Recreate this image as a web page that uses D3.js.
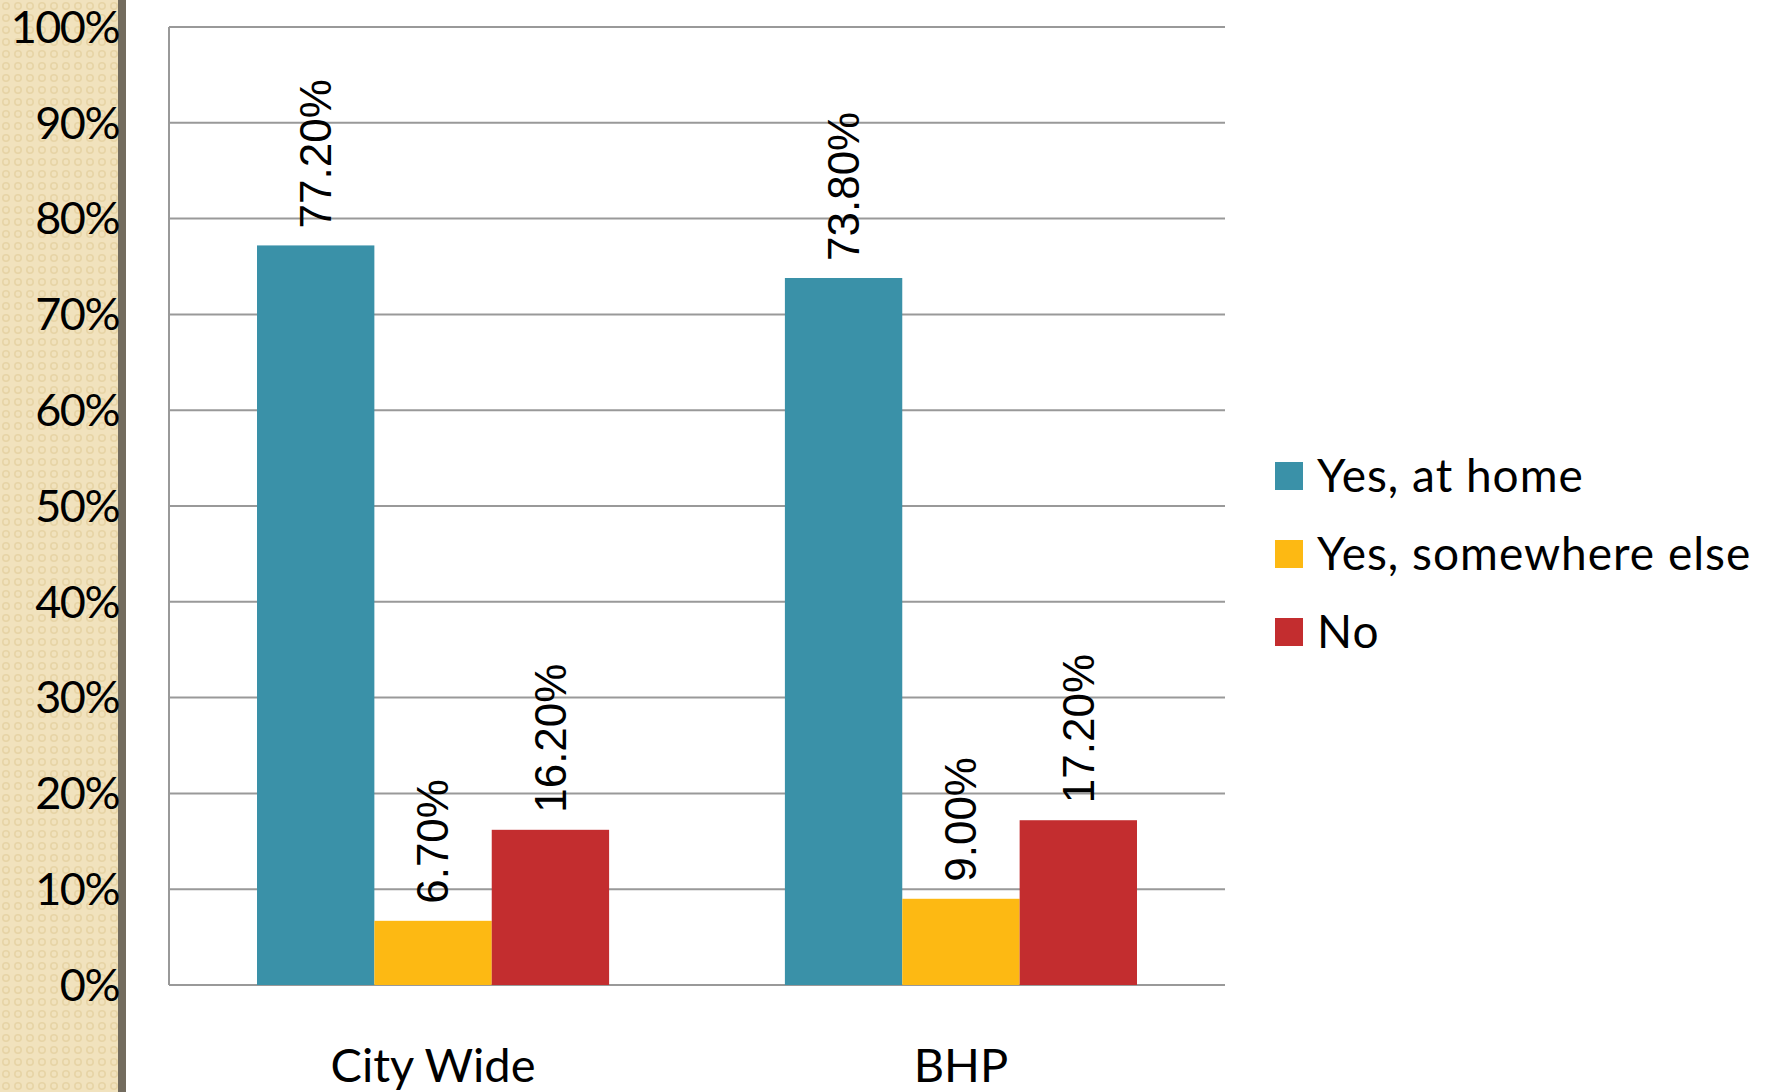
<!DOCTYPE html>
<html>
<head>
<meta charset="utf-8">
<script src="https://cdn.jsdelivr.net/npm/d3@7"></script>
<style>
  body { margin: 0; background: #fff; overflow: hidden; }
</style>
</head>
<body>
<script>
let width = 1777, height = 1092;

// data
let categories = ["City Wide", "BHP"];
let series = ["Yes, at home", "Yes, somewhere else", "No"];
let colors = ["#3a91a8", "#fdb913", "#c32d2f"];
let atHome = [77.2, 73.8];
let elsewhere = [6.7, 9.0];
let no = [16.2, 17.2];
let yTicks = [0, 10, 20, 30, 40, 50, 60, 70, 80, 90, 100];

let values = [atHome, elsewhere, no];

let svg = d3.select("body").append("svg")
    .attr("width", width)
    .attr("height", height);

// beige side panel with dotted texture
let defs = svg.append("defs");
let pat = defs.append("pattern")
    .attr("id", "dots")
    .attr("width", 12).attr("height", 12)
    .attr("patternUnits", "userSpaceOnUse");
pat.append("rect").attr("width", 12).attr("height", 12).attr("fill", "#f1e2bd");
pat.append("circle").attr("cx", 6).attr("cy", 6).attr("r", 3.2)
    .attr("fill", "none").attr("stroke", "#e7d4a6").attr("stroke-width", 1.6);

svg.append("rect").attr("x", 0).attr("y", 0).attr("width", 119).attr("height", height)
    .attr("fill", "url(#dots)");
svg.append("rect").attr("x", 118).attr("y", 0).attr("width", 8).attr("height", height)
    .attr("fill", "#736c5e");

let plotLeft = 169, plotRight = 1225, plotTop = 27, plotBottom = 985;

let x0 = d3.scaleBand().domain(categories).range([plotLeft, plotRight]).paddingInner(0.333).paddingOuter(0.1667);
let x1 = d3.scaleBand().domain(d3.range(series.length)).range([0, x0.bandwidth()]);
let y = d3.scaleLinear().domain([0, 100]).range([plotBottom, plotTop]);

// gridlines
svg.append("g").selectAll("line").data(yTicks).enter().append("line")
    .attr("x1", plotLeft).attr("x2", plotRight)
    .attr("y1", d => y(d)).attr("y2", d => y(d))
    .attr("stroke", "#999").attr("stroke-width", 2);

svg.append("line")
    .attr("x1", plotLeft).attr("x2", plotLeft).attr("y1", plotTop).attr("y2", plotBottom)
    .attr("stroke", "#999").attr("stroke-width", 2);

// y tick labels
svg.append("g").selectAll("text").data(yTicks).enter().append("text")
    .attr("x", 119)
    .attr("y", d => y(d))
    .attr("dy", "0.35em")
    .attr("text-anchor", "end")
    .attr("font-family", "Lato, sans-serif")
    .attr("font-size", 45)
    .attr("letter-spacing", -1.5)
    .attr("fill", "#000")
    .text(d => d + "%");

// bars
let groups = svg.append("g").selectAll("g").data(series).enter().append("g");
groups.each(function(s, i) {
    let g = d3.select(this);
    g.selectAll("rect").data(values[i]).enter().append("rect")
        .attr("x", (d, j) => x0(categories[j]) + x1(i))
        .attr("y", d => y(d))
        .attr("width", x1.bandwidth())
        .attr("height", d => plotBottom - y(d))
        .attr("fill", colors[i]);
    g.selectAll("text").data(values[i]).enter().append("text")
        .attr("transform", (d, j) => {
            let cx = x0(categories[j]) + x1(i) + x1.bandwidth() / 2;
            return "translate(" + cx + "," + (y(d) - 17) + ") rotate(-90)";
        })
        .attr("dy", "0.35em")
        .attr("font-family", "'Liberation Sans', Arial, sans-serif")
        .attr("font-size", 44)
        .attr("fill", "#000")
        .text(d => d.toFixed(2) + "%");
});

// category labels
svg.append("g").selectAll("text").data(categories).enter().append("text")
    .attr("x", d => x0(d) + x0.bandwidth() / 2)
    .attr("y", 1082)
    .attr("text-anchor", "middle")
    .attr("font-family", "Lato, sans-serif")
    .attr("font-size", 47)
    .attr("fill", "#000")
    .text(d => d);

// legend
let legend = svg.append("g").selectAll("g").data(series).enter().append("g")
    .attr("transform", (d, i) => "translate(1275," + (462 + i * 78) + ")");
legend.append("rect").attr("width", 28).attr("height", 28).attr("fill", (d, i) => colors[i]);
legend.append("text")
    .attr("x", 42).attr("y", 14).attr("dy", "0.35em")
    .attr("font-family", "Lato, sans-serif")
    .attr("font-size", 46)
    .attr("letter-spacing", 1)
    .attr("fill", "#000")
    .text(d => d);
</script>
</body>
</html>
